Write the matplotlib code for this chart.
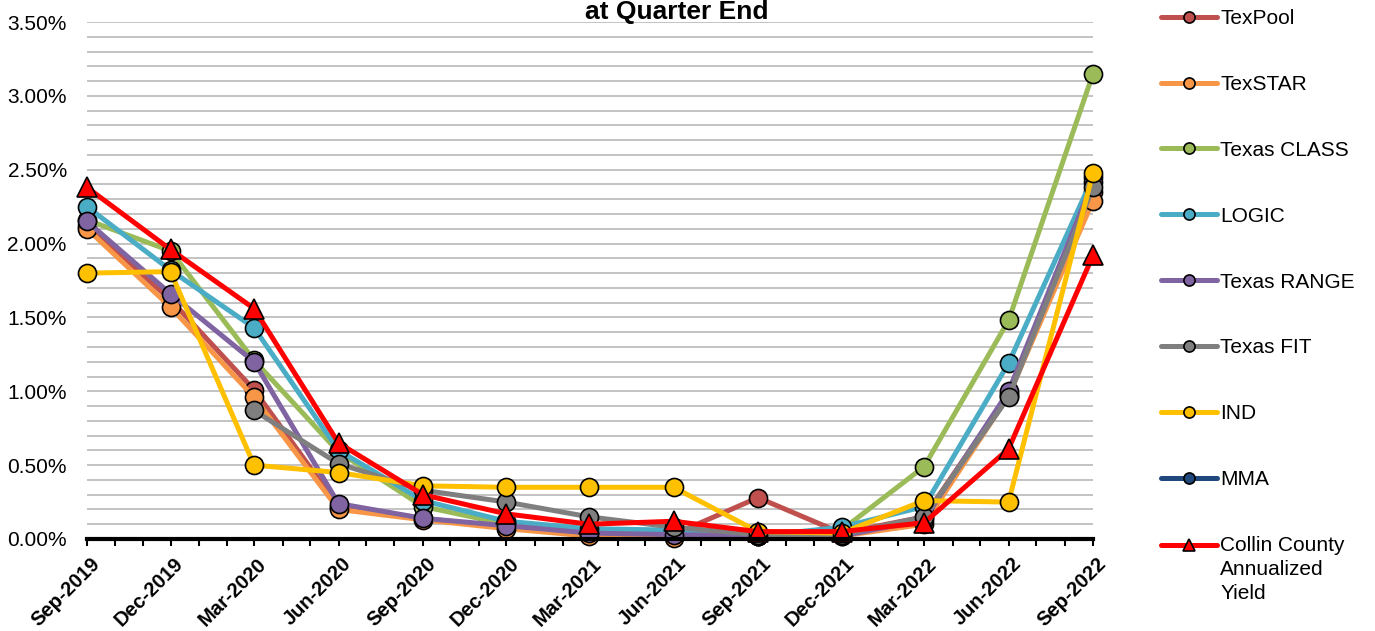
import numpy as np
import pandas as pd
import matplotlib
matplotlib.use("Agg")
import matplotlib.pyplot as plt
import matplotlib.dates as mdates
import matplotlib.transforms as mtransforms
from matplotlib.ticker import PercentFormatter, MultipleLocator

plt.rcParams['font.family'] = ['Liberation Sans', 'DejaVu Sans']

dates = pd.to_datetime(["2019-09-01", "2019-12-01", "2020-03-01", "2020-06-01",
                        "2020-09-01", "2020-12-01", "2021-03-01", "2021-06-01",
                        "2021-09-01", "2021-12-01", "2022-03-01", "2022-06-01",
                        "2022-09-01"])

texpool = [2.12, 1.62, 1.01, 0.22, 0.14, 0.08, 0.03, 0.03, 0.28, 0.04, 0.15, 0.98, 2.35]
texstar = [2.10, 1.57, 0.96, 0.20, 0.13, 0.07, 0.02, 0.01, 0.02, 0.02, 0.10, 0.97, 2.29]
texas_class = [2.16, 1.95, 1.21, 0.59, 0.22, 0.10, 0.05, 0.04, 0.02, 0.06, 0.49, 1.48, 3.15]
logic = [2.25, 1.82, 1.43, 0.60, 0.26, 0.12, 0.07, 0.06, 0.02, 0.08, 0.22, 1.19, 2.45]
texas_range = [2.15, 1.66, 1.20, 0.24, 0.14, 0.09, 0.04, 0.03, 0.02, 0.02, 0.13, 1.00, 2.42]
texas_fit = [np.nan, np.nan, 0.87, 0.51, 0.33, 0.25, 0.15, 0.08, 0.03, 0.03, 0.15, 0.96, 2.38]
ind = [1.80, 1.81, 0.50, 0.45, 0.36, 0.35, 0.35, 0.35, 0.05, 0.04, 0.26, 0.25, 2.48]
mma = [np.nan] * 13
collin = [2.38, 1.96, 1.56, 0.65, 0.30, 0.17, 0.10, 0.12, 0.05, 0.05, 0.11, 0.61, 1.92]

series = [
    ("TexPool", texpool, "#C0504D", "o"),
    ("TexSTAR", texstar, "#F79646", "o"),
    ("Texas CLASS", texas_class, "#9BBB59", "o"),
    ("LOGIC", logic, "#4BACC6", "o"),
    ("Texas RANGE", texas_range, "#8064A2", "o"),
    ("Texas FIT", texas_fit, "#7F7F7F", "o"),
    ("IND", ind, "#FFC000", "o"),
    ("MMA", mma, "#1F497D", "o"),
    ("Collin County\nAnnualized\nYield", collin, "#FF0000", "^"),
]

fig = plt.figure(figsize=(13.75, 6.31), dpi=100)
ax = fig.add_axes([87/1375, 1-539/631, (1093-87)/1375, (539-22)/631])

for name, vals, col, mk in series:
    ax.plot(dates, vals, color=col, lw=3.6, marker=mk,
            markersize=14 if mk == "^" else 13,
            markerfacecolor=col, markeredgecolor="black", markeredgewidth=1.2,
            label=name, clip_on=False, solid_capstyle="round")

ax.set_ylim(0, 3.5)
ax.set_xlim(dates[0], dates[-1])
ax.yaxis.set_major_locator(MultipleLocator(0.5))
ax.yaxis.set_minor_locator(MultipleLocator(0.1))
ax.yaxis.set_major_formatter(PercentFormatter(xmax=100, decimals=2))
ax.grid(True, which="both", axis="y", color="#BEBEBE", lw=1.3)
ax.set_axisbelow(True)
ax.tick_params(axis="y", which="both", length=0, labelsize=15, pad=14.5)

ax.xaxis.set_major_locator(mdates.MonthLocator(bymonth=[3, 6, 9, 12]))
ax.xaxis.set_minor_locator(mdates.MonthLocator())
ax.xaxis.set_major_formatter(mdates.DateFormatter("%b-%Y"))
ax.tick_params(axis="x", which="both", direction="out", length=5, width=1.5, color="black")
ax.tick_params(axis="x", which="major", labelsize=14.5, pad=6)
offset = mtransforms.ScaledTranslation(3/100, 0, fig.dpi_scale_trans)
for lbl in ax.get_xticklabels():
    lbl.set_rotation(45)
    lbl.set_ha("right")
    lbl.set_va("top")
    lbl.set_rotation_mode("anchor")
    lbl.set_fontweight("bold")
    lbl.set_transform(lbl.get_transform() + offset)

for s in ["left", "right", "top"]:
    ax.spines[s].set_visible(False)
ax.spines["bottom"].set_linewidth(3)
ax.spines["bottom"].set_color("black")

leg = fig.legend(loc="upper left", bbox_to_anchor=(1161/1375, 1-9/631),
                 frameon=False, fontsize=15, borderpad=0, borderaxespad=0,
                 handlelength=2.7, handletextpad=0.15, labelspacing=2.25)
for h in leg.legend_handles:
    h.set_markersize(8)
    h.set_markeredgewidth(1.2)
leg.get_texts()[-1].set_linespacing(1.32)
last = leg.legend_handles[-1]
last.set_ydata(np.asarray(last.get_ydata()) + 17.5)

fig.text(677/1375, 1-19/631, "at Quarter End", ha="center", va="baseline",
         fontsize=19, fontweight="bold")

fig.savefig("out.png", dpi=100)
